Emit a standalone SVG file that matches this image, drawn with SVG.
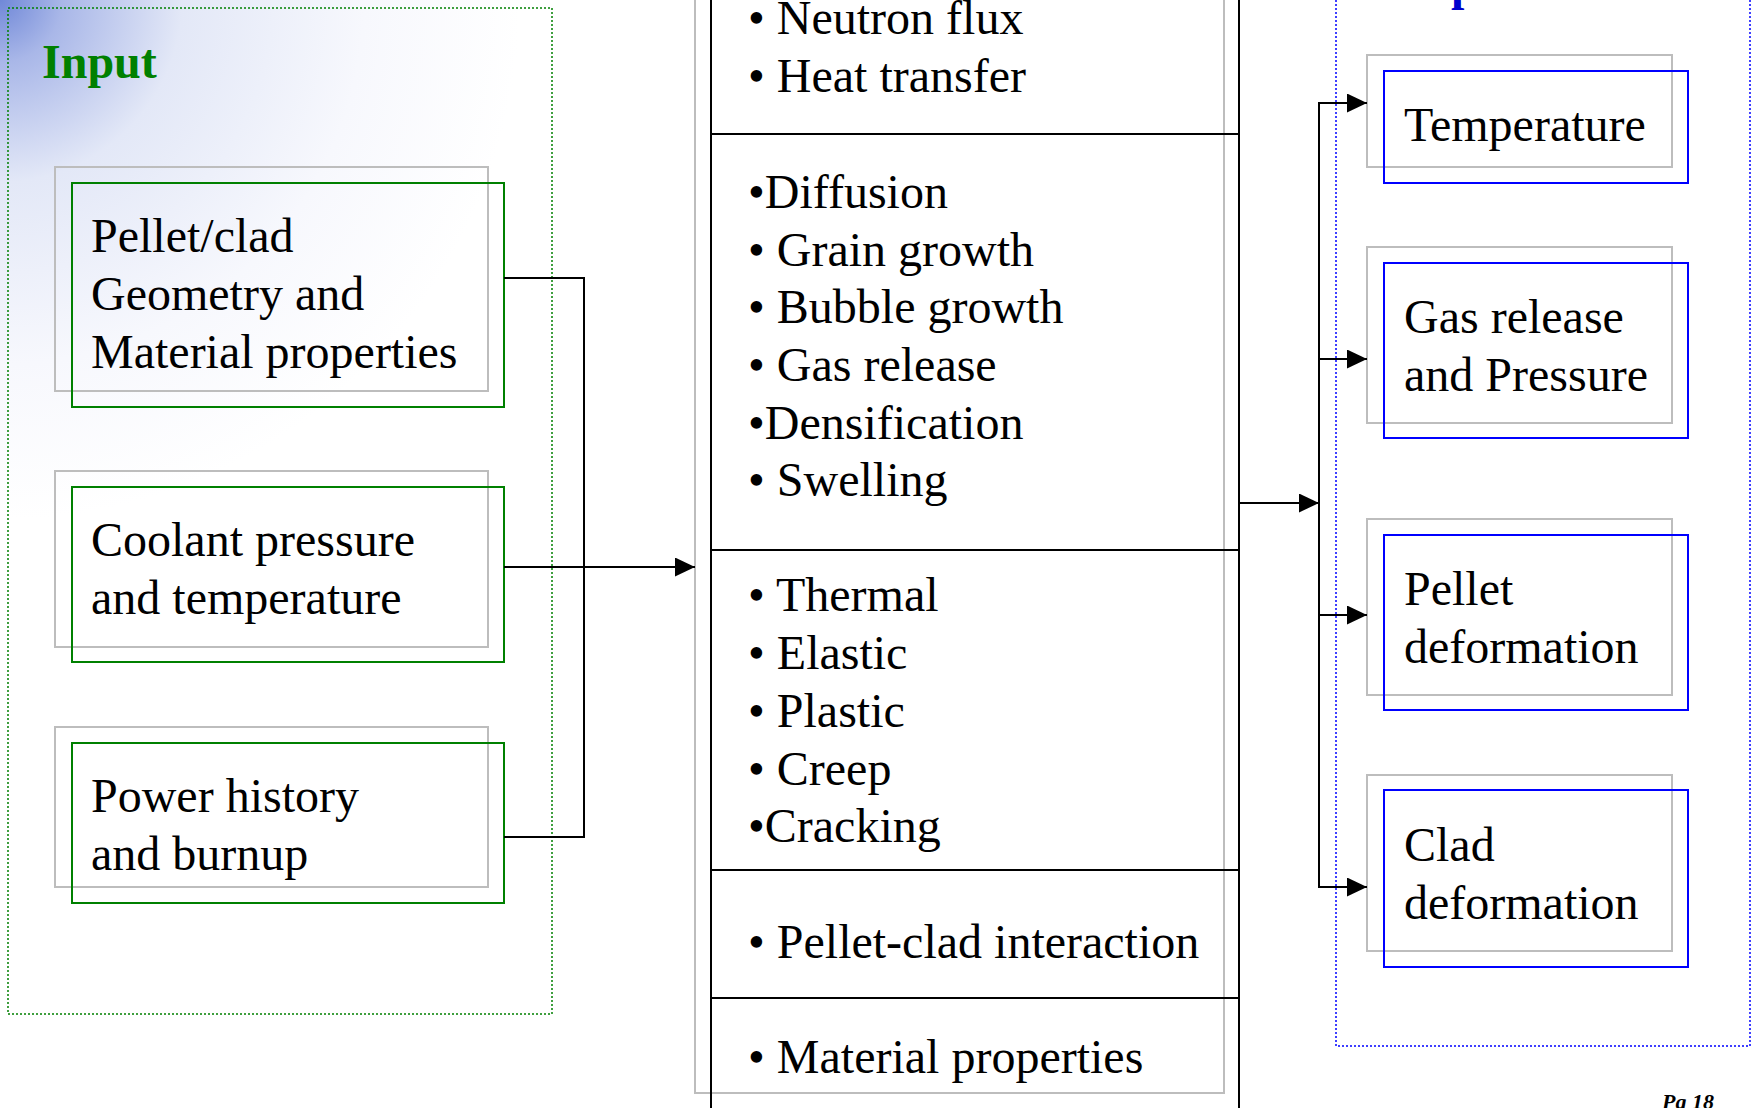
<svg xmlns="http://www.w3.org/2000/svg" width="1753" height="1108" viewBox="0 0 1753 1108">
<defs>
  <radialGradient id="bg" cx="0" cy="0" r="520" gradientUnits="userSpaceOnUse">
    <stop offset="0" stop-color="#7088d8"/>
    <stop offset="0.12" stop-color="#a9b7e8"/>
    <stop offset="0.35" stop-color="#e3e8f7"/>
    <stop offset="0.7" stop-color="#f7f8fd"/>
    <stop offset="1" stop-color="#ffffff"/>
  </radialGradient>
  <marker id="ah" markerWidth="20" markerHeight="19" refX="20" refY="9.5" orient="auto" markerUnits="userSpaceOnUse">
    <path d="M0,0 L20,9.5 L0,19 Z" fill="#000"/>
  </marker>
</defs>
<style>
  .t { font-family: "Liberation Serif", "Times New Roman", serif; font-size: 48px; fill: #000; }
  .title { font-family: "Liberation Serif", "Times New Roman", serif; font-size: 48px; font-weight: bold; }
  .gray { fill: none; stroke: #bdbdbd; stroke-width: 2; }
  .green { fill: none; stroke: #008000; stroke-width: 2; }
  .blue { fill: none; stroke: #0000ff; stroke-width: 2; }
  .blk { fill: none; stroke: #000; stroke-width: 2; }
  .conn { fill: none; stroke: #000; stroke-width: 2; }
</style>
<rect x="0" y="0" width="1753" height="1108" fill="#fff"/>
<rect x="0" y="0" width="700" height="900" fill="url(#bg)"/>

<g id="input-group">
  <rect x="8" y="8" width="544" height="1006" fill="none" stroke="#008000" stroke-width="1.5" stroke-dasharray="2,2"/>
  <text class="title" x="42" y="78" fill="#008000">Input</text>
</g>

<g id="node-geometry">
  <rect class="gray" x="55" y="167" width="433" height="224"/>
  <rect class="green" x="72" y="183" width="432" height="224"/>
  <text class="t" x="91" y="252">Pellet/clad</text>
  <text class="t" x="91" y="310">Geometry and</text>
  <text class="t" x="91" y="368">Material properties</text>
</g>

<g id="node-coolant">
  <rect class="gray" x="55" y="471" width="433" height="176"/>
  <rect class="green" x="72" y="487" width="432" height="175"/>
  <text class="t" x="91" y="556">Coolant pressure</text>
  <text class="t" x="91" y="614">and temperature</text>
</g>

<g id="node-power">
  <rect class="gray" x="55" y="727" width="433" height="160"/>
  <rect class="green" x="72" y="743" width="432" height="160"/>
  <text class="t" x="91" y="812">Power history</text>
  <text class="t" x="91" y="870">and burnup</text>
</g>

<g id="node-models">
  <rect class="gray" x="695" y="-10" width="529" height="1103"/>
  <line class="blk" x1="711" y1="-5" x2="711" y2="1115"/>
  <line class="blk" x1="1239" y1="-5" x2="1239" y2="1115"/>
  <line class="blk" x1="711" y1="134" x2="1239" y2="134"/>
  <line class="blk" x1="711" y1="550" x2="1239" y2="550"/>
  <line class="blk" x1="711" y1="870" x2="1239" y2="870"/>
  <line class="blk" x1="711" y1="998" x2="1239" y2="998"/>
  <text class="t" x="748" y="34">• Neutron flux</text>
  <text class="t" x="748" y="92">• Heat transfer</text>
  <text class="t" x="748" y="208">•Diffusion</text>
  <text class="t" x="748" y="266">• Grain growth</text>
  <text class="t" x="748" y="323">• Bubble growth</text>
  <text class="t" x="748" y="381">• Gas release</text>
  <text class="t" x="748" y="439">•Densification</text>
  <text class="t" x="748" y="496">• Swelling</text>
  <text class="t" x="748" y="611">• Thermal</text>
  <text class="t" x="748" y="669">• Elastic</text>
  <text class="t" x="748" y="727">• Plastic</text>
  <text class="t" x="748" y="785">• Creep</text>
  <text class="t" x="748" y="842">•Cracking</text>
  <text class="t" x="748" y="958">• Pellet-clad interaction</text>
  <text class="t" x="748" y="1073">• Material properties</text>
</g>

<g id="output-group">
  <rect x="1336" y="-10" width="414" height="1056" fill="none" stroke="#0000ff" stroke-width="1.5" stroke-dasharray="2,2"/>
  <text class="title" x="1371" y="0" fill="#0000cc">Output</text>
</g>

<g id="node-temperature">
  <rect class="gray" x="1367" y="55" width="305" height="112"/>
  <rect class="blue" x="1384" y="71" width="304" height="112"/>
  <text class="t" x="1404" y="141">Temperature</text>
</g>

<g id="node-gas">
  <rect class="gray" x="1367" y="247" width="305" height="176"/>
  <rect class="blue" x="1384" y="263" width="304" height="175"/>
  <text class="t" x="1404" y="333">Gas release</text>
  <text class="t" x="1404" y="391">and Pressure</text>
</g>

<g id="node-pellet">
  <rect class="gray" x="1367" y="519" width="305" height="176"/>
  <rect class="blue" x="1384" y="535" width="304" height="175"/>
  <text class="t" x="1404" y="605">Pellet</text>
  <text class="t" x="1404" y="663">deformation</text>
</g>

<g id="node-clad">
  <rect class="gray" x="1367" y="775" width="305" height="176"/>
  <rect class="blue" x="1384" y="790" width="304" height="177"/>
  <text class="t" x="1404" y="861">Clad</text>
  <text class="t" x="1404" y="919">deformation</text>
</g>

<g id="connectors">
  <polyline class="conn" points="504,278 584,278 584,837 504,837"/>
  <line class="conn" x1="504" y1="567" x2="695" y2="567" marker-end="url(#ah)"/>
  <line class="conn" x1="1239" y1="503" x2="1319" y2="503" marker-end="url(#ah)"/>
  <polyline class="conn" points="1319,887 1319,103 1367,103" marker-end="url(#ah)"/>
  <line class="conn" x1="1318" y1="887" x2="1367" y2="887" marker-end="url(#ah)"/>
  <line class="conn" x1="1319" y1="359" x2="1367" y2="359" marker-end="url(#ah)"/>
  <line class="conn" x1="1319" y1="615" x2="1367" y2="615" marker-end="url(#ah)"/>
</g>

<text x="1662" y="1109" font-family="Liberation Serif, serif" font-size="22" font-weight="bold" font-style="italic" fill="#000">Pg 18</text>
</svg>
